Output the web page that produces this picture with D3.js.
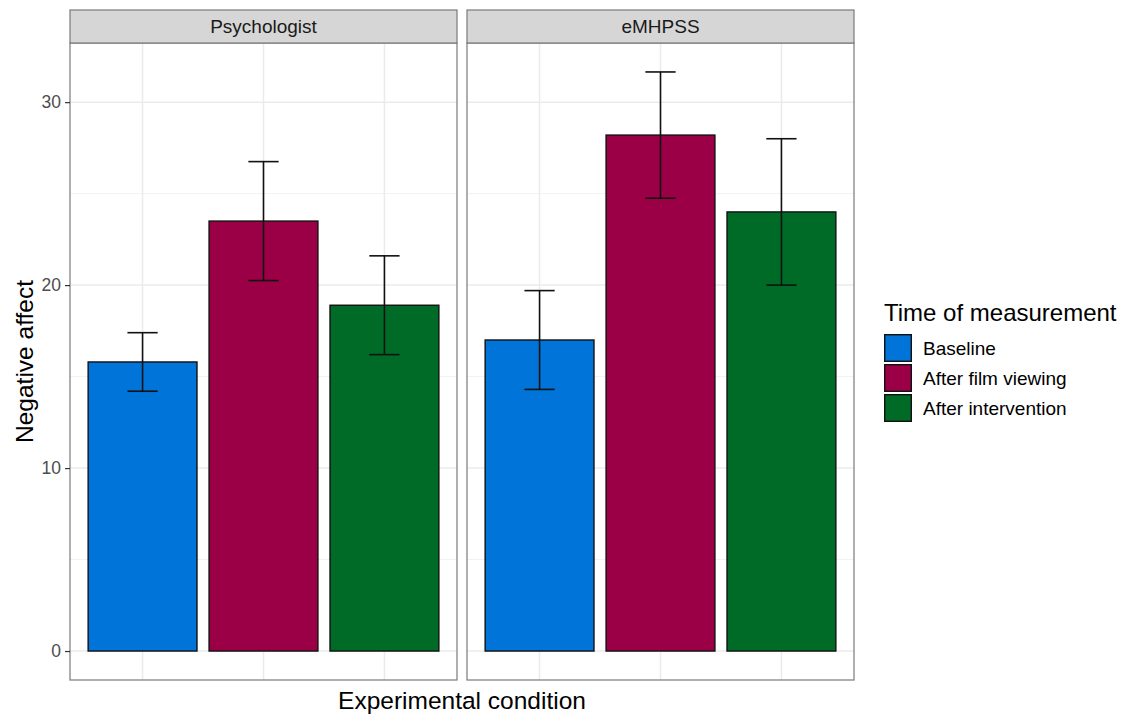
<!DOCTYPE html>
<html>
<head>
<meta charset="utf-8">
<script src="https://cdn.jsdelivr.net/npm/d3@7"></script>
<style>
  html, body { margin: 0; padding: 0; background: #fff; }
  svg { display: block; font-family: "Liberation Sans", Arial, Helvetica, sans-serif; }
</style>
</head>
<body>
<svg id="chart" width="1129" height="715"></svg>
<script>
// Facets (experimental condition) and fill groups (time of measurement)
const conditions = ["Psychologist", "eMHPSS"];
const times = ["Baseline", "After film viewing", "After intervention"];
const timeColors = ["#0074D9", "#9B0046", "#006B26"];

// Mean negative affect per condition, in the order of `times`
const psychologistMeans = [15.8, 23.5, 18.9];
const psychologistErrors = [1.6, 3.25, 2.7];
const emhpssMeans = [17.0, 28.2, 24.0];
const emhpssErrors = [2.7, 3.45, 4.0];

const yTicks = [0, 10, 20, 30];
const yMinorTicks = [5, 15, 25];

const meansByCondition = [psychologistMeans, emhpssMeans];
const errorsByCondition = [psychologistErrors, emhpssErrors];

const rows = [];
conditions.forEach((c, ci) => {
  times.forEach((t, ti) => {
    rows.push({
      condition: c, time: t,
      mean: meansByCondition[ci][ti],
      err: errorsByCondition[ci][ti]
    });
  });
});

const svg = d3.select("#chart");

// Layout
const panelTop = 43, panelBottom = 680, stripTop = 10;
const plotLeft = 70, plotRight = 854, panelGap = 10;
const panelW = (plotRight - plotLeft - panelGap) / conditions.length;

const facetX = d3.scaleOrdinal()
  .domain(conditions)
  .range(conditions.map((_, i) => plotLeft + i * (panelW + panelGap)));

// Continuous y with 5% expansion of the data range
const yMax = d3.max(rows, d => d.mean + d.err);
const yMin = 0;
const pad = (yMax - yMin) * 0.05;
const y = d3.scaleLinear().domain([yMin - pad, yMax + pad]).range([panelBottom, panelTop]);

// Discrete x within each panel: 0.6 unit expansion either side
const x = d3.scalePoint().domain(times).range([0, panelW]).padding(0.6);
const step = x.step();
const barW = step * 0.9;
const capW = step * 0.25;

const color = d3.scaleOrdinal().domain(times).range(timeColors);

conditions.forEach(cond => {
  const x0 = facetX(cond);
  const g = svg.append("g").attr("transform", `translate(${x0},0)`);

  // panel background
  g.append("rect").attr("x", 0).attr("y", panelTop).attr("width", panelW)
    .attr("height", panelBottom - panelTop).attr("fill", "#fff");

  // minor gridlines
  g.selectAll(".ymin").data(yMinorTicks).join("line")
    .attr("x1", 0).attr("x2", panelW)
    .attr("y1", d => y(d)).attr("y2", d => y(d))
    .attr("stroke", "#F2F2F2").attr("stroke-width", 1);

  // major gridlines
  g.selectAll(".ymaj").data(yTicks).join("line")
    .attr("x1", 0).attr("x2", panelW)
    .attr("y1", d => y(d)).attr("y2", d => y(d))
    .attr("stroke", "#EBEBEB").attr("stroke-width", 1.5);
  g.selectAll(".xmaj").data(times).join("line")
    .attr("x1", d => x(d)).attr("x2", d => x(d))
    .attr("y1", panelTop).attr("y2", panelBottom)
    .attr("stroke", "#EBEBEB").attr("stroke-width", 1.5);

  const data = rows.filter(r => r.condition === cond);

  // bars
  g.selectAll(".bar").data(data).join("rect")
    .attr("x", d => x(d.time) - barW / 2)
    .attr("width", barW)
    .attr("y", d => y(d.mean))
    .attr("height", d => y(0) - y(d.mean))
    .attr("fill", d => color(d.time))
    .attr("stroke", "#111").attr("stroke-width", 1.4);

  // error bars
  const eb = g.selectAll(".eb").data(data).join("g");
  eb.append("line")
    .attr("x1", d => x(d.time)).attr("x2", d => x(d.time))
    .attr("y1", d => y(d.mean + d.err)).attr("y2", d => y(d.mean - d.err));
  eb.append("line")
    .attr("x1", d => x(d.time) - capW / 2).attr("x2", d => x(d.time) + capW / 2)
    .attr("y1", d => y(d.mean + d.err)).attr("y2", d => y(d.mean + d.err));
  eb.append("line")
    .attr("x1", d => x(d.time) - capW / 2).attr("x2", d => x(d.time) + capW / 2)
    .attr("y1", d => y(d.mean - d.err)).attr("y2", d => y(d.mean - d.err));
  eb.selectAll("line").attr("stroke", "#111").attr("stroke-width", 1.6);

  // panel border
  g.append("rect").attr("x", 0).attr("y", panelTop).attr("width", panelW)
    .attr("height", panelBottom - panelTop)
    .attr("fill", "none").attr("stroke", "#7a7a7a").attr("stroke-width", 1.2);

  // strip
  g.append("rect").attr("x", 0).attr("y", stripTop).attr("width", panelW)
    .attr("height", panelTop - stripTop)
    .attr("fill", "#D6D6D6").attr("stroke", "#7a7a7a").attr("stroke-width", 1.2);
  g.append("text").attr("x", panelW / 2).attr("y", (stripTop + panelTop) / 2)
    .attr("dy", "0.36em").attr("text-anchor", "middle")
    .attr("font-size", 19).attr("fill", "#1A1A1A").text(cond);
});

// y axis on the first panel
const yAxis = d3.axisLeft(y).tickValues(yTicks).tickSize(5).tickPadding(4);
const ya = svg.append("g").attr("transform", `translate(${plotLeft},0)`).call(yAxis);
ya.select(".domain").remove();
ya.selectAll(".tick line").attr("stroke", "#333").attr("stroke-width", 1.2);
ya.selectAll(".tick text").attr("font-size", 17.5).attr("fill", "#4D4D4D")
  .attr("font-family", "Liberation Sans, Arial, sans-serif");

// axis titles
svg.append("text")
  .attr("transform", `translate(33,${(panelTop + panelBottom) / 2}) rotate(-90)`)
  .attr("text-anchor", "middle").attr("font-size", 24.5).attr("fill", "#000")
  .text("Negative affect");
svg.append("text")
  .attr("x", (plotLeft + plotRight) / 2).attr("y", 709)
  .attr("text-anchor", "middle").attr("font-size", 24.5).attr("fill", "#000")
  .text("Experimental condition");

// legend
const lg = svg.append("g").attr("transform", "translate(884,0)");
lg.append("text").attr("x", 0).attr("y", 321).attr("font-size", 24).attr("fill", "#000")
  .text("Time of measurement");
const keyH = 28, keyTop = 334, keyGap = 30;
const items = lg.selectAll(".item").data(times).join("g")
  .attr("transform", (d, i) => `translate(0,${keyTop + i * keyGap})`);
items.append("rect").attr("x", 0.7).attr("y", 0.7).attr("width", keyH - 1.4).attr("height", keyH - 1.4)
  .attr("fill", d => color(d)).attr("stroke", "#111").attr("stroke-width", 1.4);
items.append("text").attr("x", 39).attr("y", keyH / 2).attr("dy", "0.36em")
  .attr("font-size", 19).attr("fill", "#000").text(d => d);
</script>
</body>
</html>
